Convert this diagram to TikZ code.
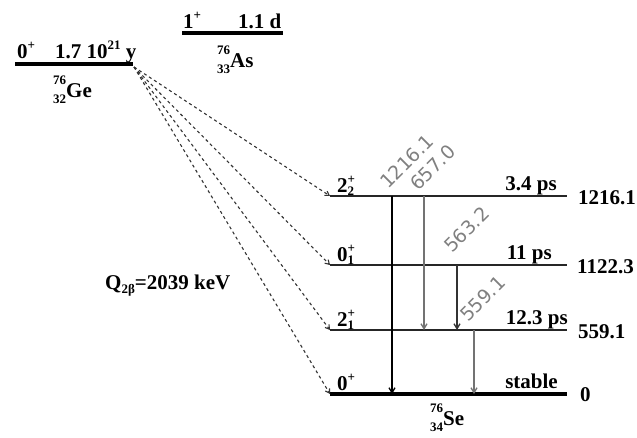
\documentclass[tikz,border=0pt]{standalone}
\usepackage{fontspec}
\setmainfont{Liberation Serif}
\newfontfamily\gsans{DejaVu Sans}
\usetikzlibrary{arrows.meta}
\newcommand\bigf{\fontsize{21}{21}\selectfont\bfseries}
\newcommand\smf{\fontsize{13}{13}\selectfont\bfseries}
\newcommand\myspin[3]{#1\rlap{\raisebox{9pt}{\smf #2}}\raisebox{-3pt}{\smf #3}}
\newcommand\myiso[3]{\rlap{\raisebox{13pt}{\smf #1}}\raisebox{-6pt}{\smf #2}#3}
\begin{document}
\begin{tikzpicture}[x=1pt,y=-1pt,
  lbl/.style={inner sep=0pt, font=\bigf},
  thicklvl/.style={line width=3.5pt, black},
  thinlvl/.style={line width=1.3pt, black!85},
  feed/.style={dashed, dash pattern=on 3pt off 3pt, line width=1.1pt, black!80,
     -{Straight Barb[length=4pt,width=5pt]}},
  gam/.style={line width=1.3pt, -{Straight Barb[length=5pt,width=6pt]}},
  gamlbl/.style={inner sep=0pt, rotate=45, anchor=base west, text=black!50,
     font=\gsans\fontsize{19}{19}\selectfont}]
\useasboundingbox (0,0) rectangle (637,437);

% 76Ge
\coordinate (geL) at (15,64);
\coordinate (geR) at (133,64);
\draw[thicklvl] (geL) -- (geR);
\node[lbl, anchor=base west] (gespin) at (17,58) {0\raisebox{9pt}{\smf +}};
\node[lbl, anchor=base west] (gehl) at (55,58) {1.7 10\raisebox{9pt}{\smf 21} y};
\node[lbl, anchor=base west] (gename) at (53,97) {\myiso{76}{32}{Ge}};

% 76As
\coordinate (asL) at (182,33);
\coordinate (asR) at (283,33);
\draw[thicklvl] (asL) -- (asR);
\node[lbl, anchor=base west] (asspin) at (183,28) {1\raisebox{9pt}{\smf +}};
\node[lbl, anchor=base west] (ashl) at (238,28) {1.1 d};
\node[lbl, anchor=base west] (asname) at (217,67) {\myiso{76}{33}{As}};

% 76Se levels
\coordinate (l3L) at (330,196); \coordinate (l3R) at (567,196);
\coordinate (l2L) at (330,265); \coordinate (l2R) at (567,265);
\coordinate (l1L) at (330,330); \coordinate (l1R) at (567,330);
\coordinate (l0L) at (330,394); \coordinate (l0R) at (567,394);
\draw[thinlvl] (l3L) -- (l3R);
\draw[thinlvl] (l2L) -- (l2R);
\draw[thinlvl] (l1L) -- (l1R);
\draw[thicklvl] (l0L) -- (l0R);

\node[lbl, anchor=base west] (s3) at (337,192) {\myspin{2}{+}{2}};
\node[lbl, anchor=base west] (s2) at (337,261) {\myspin{0}{+}{1}};
\node[lbl, anchor=base west] (s1) at (337,326) {\myspin{2}{+}{1}};
\node[lbl, anchor=base west] (s0) at (337,390) {0\raisebox{9pt}{\smf +}};

\node[lbl, anchor=base east] (h3) at (557,190) {3.4 ps};
\node[lbl, anchor=base east] (h2) at (552,259) {11 ps};
\node[lbl, anchor=base east] (h1) at (568,324) {12.3 ps};
\node[lbl, anchor=base east] (h0) at (558,388) {stable};

\node[lbl, anchor=base west] (e3) at (578,204) {1216.1};
\node[lbl, anchor=base west] (e2) at (577,273) {1122.3};
\node[lbl, anchor=base west] (e1) at (578,338) {559.1};
\node[lbl, anchor=base west] (e0) at (580,401) {0};

\node[lbl, anchor=base west] (sename) at (430,425) {\myiso{76}{34}{Se}};

% Q value
\node[lbl, anchor=base west] (qval) at (105,289)
  {Q\raisebox{-4pt}{\smf 2β}=2039 keV};

% beta-beta feeding
\coordinate (gs) at (134,67);
\draw[feed] (gs) -- (l3L);
\draw[feed] (gs) -- (l2L);
\draw[feed] (gs) -- (l1L);
\draw[feed] (gs) -- (l0L);

% gamma transitions
\coordinate (g1t) at (392,196); \coordinate (g1b) at (392,394);
\coordinate (g2t) at (424,196); \coordinate (g2b) at (424,330);
\coordinate (g3t) at (457,265); \coordinate (g3b) at (457,330);
\coordinate (g4t) at (474,330); \coordinate (g4b) at (474,394);
\draw[gam, black] (g1t) -- (g1b);
\draw[gam, black!55] (g2t) -- (g2b);
\draw[gam, black!80] (g3t) -- (g3b);
\draw[gam, black!55] (g4t) -- (g4b);

\node[gamlbl] (t1) at (388,190) {1216.1};
\node[gamlbl] (t2) at (418,192) {657.0};
\node[gamlbl] (t3) at (452,254) {563.2};
\node[gamlbl] (t4) at (468,323) {559.1};
\end{tikzpicture}
\end{document}
